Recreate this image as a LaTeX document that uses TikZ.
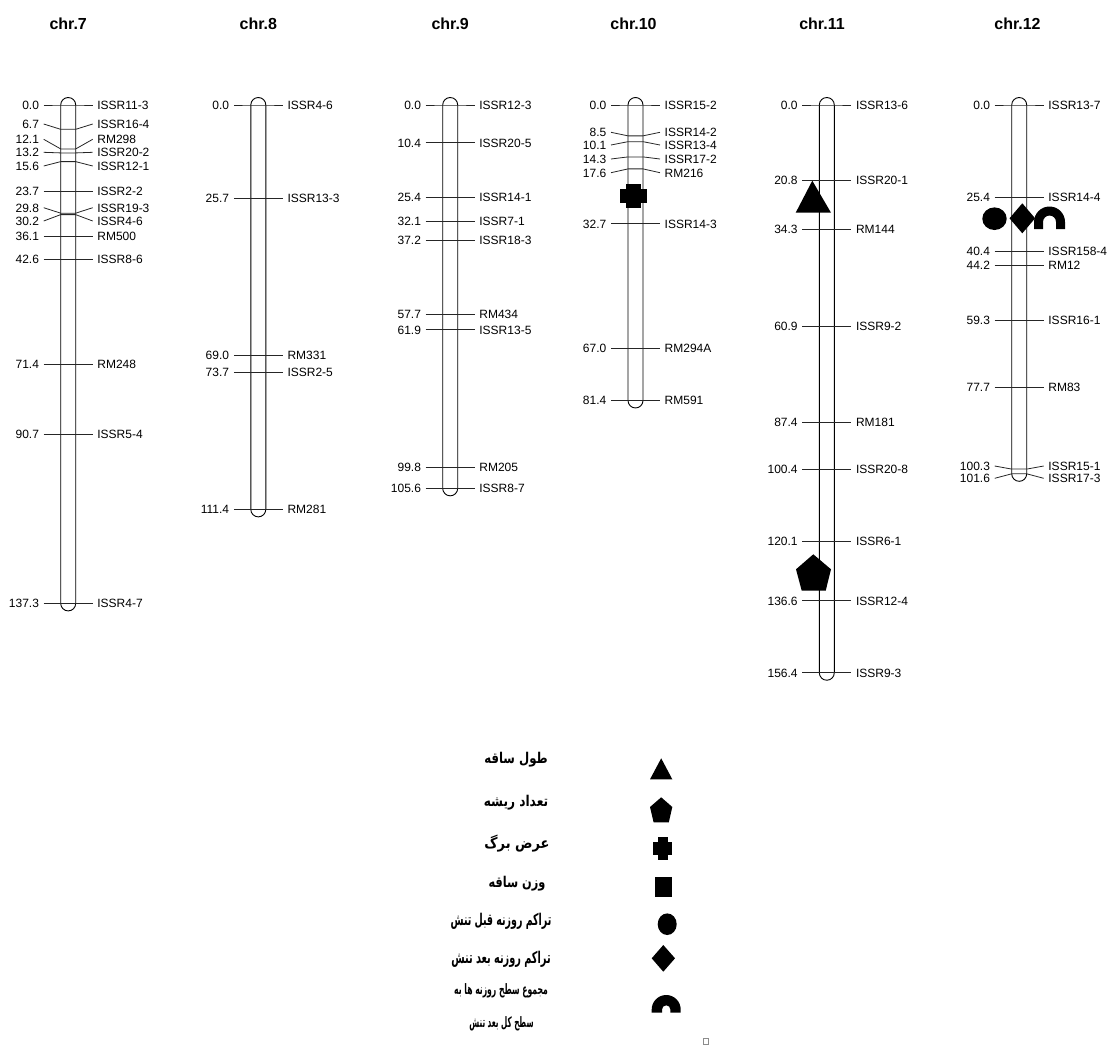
\documentclass[tikz,border=0pt]{standalone}
\usepackage{fontspec}
\usepackage{graphicx}
\setmainfont{Liberation Sans}
\newfontfamily\fa[Script=Arabic]{DejaVu Sans}
\TeXXeTstate=1
\newcounter{mkc}
\tikzset{
  barline/.style={draw=black, line width=0.9pt, fill=white},
  mkline/.style={draw=black!85, line width=0.8pt},
  numlab/.style={anchor=east, inner sep=0pt, font=\fontsize{12}{12}\selectfont, text height=8.6pt, text depth=0pt},
  namelab/.style={anchor=west, inner sep=0pt, font=\fontsize{12}{12}\selectfont, text height=8.6pt, text depth=0pt},
  ttl/.style={anchor=base, inner sep=0pt, font=\fontsize{16}{16}\selectfont\bfseries},
  legtxt/.style={inner sep=0pt, font=\fa\bfseries\fontsize{13.5}{14}\selectfont},
  legsmall/.style={inner sep=0pt, font=\fa\bfseries\fontsize{12}{13}\selectfont},
  sym/.style={fill=black}
}
\newcommand\chrbar[2]{%
  \pgfmathsetmacro\cbb{-(105+3.63*#2)}%
  \draw[barline] (#1-7.5,-105) -- (#1-7.5,\cbb) arc[start angle=180,end angle=360,radius=7.5]
     -- (#1+7.5,-105) arc[start angle=0,end angle=180,radius=7.5] -- cycle;}
\newcommand\mk[5]{%
  \pgfmathsetmacro\mkty{-(105+3.63*#2)}%
  \def\mktmp{#3}%
  \ifx\mktmp\empty \let\mkly\mkty \else \pgfmathsetmacro\mkly{-#3}\fi
  \stepcounter{mkc}%
  \draw[mkline] (#1-24.5,\mkly) -- (#1-7.5,\mkty) -- (#1+7.5,\mkty) -- (#1+24.5,\mkly);
  \node[numlab] (num\arabic{mkc}) at (#1-29,\mkly) {#4};
  \node[namelab] (name\arabic{mkc}) at (#1+29,\mkly) {#5};}
\begin{document}
\begin{tikzpicture}[x=1pt,y=1pt]
\useasboundingbox (0,0) rectangle (1109,-1047);
% titles
\node[ttl] (t7) at (68.2,-29) {chr.7};
\node[ttl] (t8) at (258.3,-29) {chr.8};
\node[ttl] (t9) at (450.2,-29) {chr.9};
\node[ttl] (t10) at (633.5,-29) {chr.10};
\node[ttl] (t11) at (822,-29) {chr.11};
\node[ttl] (t12) at (1017.5,-29) {chr.12};
% bars
\chrbar{68.2}{137.3}
\chrbar{258.3}{111.4}
\chrbar{450.2}{105.6}
\chrbar{635.5}{81.4}
\chrbar{826.8}{156.4}
\chrbar{1019.2}{101.6}
% chr.7
\mk{68.2}{0}{}{0.0}{ISSR11-3}
\mk{68.2}{6.7}{124}{6.7}{ISSR16-4}
\mk{68.2}{12.1}{139.3}{12.1}{RM298}
\mk{68.2}{13.2}{152.3}{13.2}{ISSR20-2}
\mk{68.2}{15.6}{166}{15.6}{ISSR12-1}
\mk{68.2}{23.7}{}{23.7}{ISSR2-2}
\mk{68.2}{29.8}{207.7}{29.8}{ISSR19-3}
\mk{68.2}{30.2}{221}{30.2}{ISSR4-6}
\mk{68.2}{36.1}{}{36.1}{RM500}
\mk{68.2}{42.6}{}{42.6}{ISSR8-6}
\mk{68.2}{71.4}{}{71.4}{RM248}
\mk{68.2}{90.7}{}{90.7}{ISSR5-4}
\mk{68.2}{137.3}{}{137.3}{ISSR4-7}
% chr.8
\mk{258.3}{0}{}{0.0}{ISSR4-6}
\mk{258.3}{25.7}{}{25.7}{ISSR13-3}
\mk{258.3}{69.0}{}{69.0}{RM331}
\mk{258.3}{73.7}{}{73.7}{ISSR2-5}
\mk{258.3}{111.4}{}{111.4}{RM281}
% chr.9
\mk{450.2}{0}{}{0.0}{ISSR12-3}
\mk{450.2}{10.4}{}{10.4}{ISSR20-5}
\mk{450.2}{25.4}{}{25.4}{ISSR14-1}
\mk{450.2}{32.1}{}{32.1}{ISSR7-1}
\mk{450.2}{37.2}{}{37.2}{ISSR18-3}
\mk{450.2}{57.7}{}{57.7}{RM434}
\mk{450.2}{61.9}{}{61.9}{ISSR13-5}
\mk{450.2}{99.8}{}{99.8}{RM205}
\mk{450.2}{105.6}{}{105.6}{ISSR8-7}
% chr.10
\mk{635.5}{0}{}{0.0}{ISSR15-2}
\mk{635.5}{8.5}{132.3}{8.5}{ISSR14-2}
\mk{635.5}{10.1}{145}{10.1}{ISSR13-4}
\mk{635.5}{14.3}{159}{14.3}{ISSR17-2}
\mk{635.5}{17.6}{172.7}{17.6}{RM216}
\mk{635.5}{32.7}{}{32.7}{ISSR14-3}
\mk{635.5}{67.0}{}{67.0}{RM294A}
\mk{635.5}{81.4}{}{81.4}{RM591}
% chr.11
\mk{826.8}{0}{}{0.0}{ISSR13-6}
\mk{826.8}{20.8}{}{20.8}{ISSR20-1}
\mk{826.8}{34.3}{}{34.3}{RM144}
\mk{826.8}{60.9}{}{60.9}{ISSR9-2}
\mk{826.8}{87.4}{}{87.4}{RM181}
\mk{826.8}{100.4}{}{100.4}{ISSR20-8}
\mk{826.8}{120.1}{}{120.1}{ISSR6-1}
\mk{826.8}{136.6}{}{136.6}{ISSR12-4}
\mk{826.8}{156.4}{}{156.4}{ISSR9-3}
% chr.12
\mk{1019.2}{0}{}{0.0}{ISSR13-7}
\mk{1019.2}{25.4}{}{25.4}{ISSR14-4}
\mk{1019.2}{40.4}{}{40.4}{ISSR158-4}
\mk{1019.2}{44.2}{}{44.2}{RM12}
\mk{1019.2}{59.3}{}{59.3}{ISSR16-1}
\mk{1019.2}{77.7}{}{77.7}{RM83}
\mk{1019.2}{100.3}{466}{100.3}{ISSR15-1}
\mk{1019.2}{101.6}{478.3}{101.6}{ISSR17-3}
% QTL symbols on chromosomes
\fill[sym] (620,-189.3) rectangle (646.7,-203.3);
\fill[sym] (626,-184.3) rectangle (640.7,-208.3);
\fill[sym] (812.3,-180.7) -- (795.7,-212.7) -- (831,-212.7) -- cycle;
\fill[sym] (813.3,-554.3) -- (831,-569.3) -- (825.7,-590.7) -- (801.7,-590.7) -- (796,-569.3) -- cycle;
\fill[sym] (994.5,-218.7) ellipse [x radius=12.2, y radius=11.3];
\fill[sym] (1022.3,-203.3) -- (1035.1,-218.3) -- (1022.3,-233.3) -- (1009.5,-218.3) -- cycle;
\fill[sym] (1034,-229) -- (1034,-222) arc[start angle=180,end angle=0,radius=15.5] -- (1065,-229) -- (1056,-229)
   -- (1056,-222) arc[start angle=0,end angle=180,radius=6.5] -- (1043,-229) -- cycle;
% legend symbols
\fill[sym] (661.2,-758.3) -- (650,-779.3) -- (672.3,-779.3) -- cycle;
\fill[sym] (661.2,-797.3) -- (672.3,-807) -- (668.8,-822.3) -- (653.6,-822.3) -- (650,-807) -- cycle;
\fill[sym] (653.3,-841.6) rectangle (672.3,-855);
\fill[sym] (657.6,-836.7) rectangle (668.1,-860);
\fill[sym] (655,-877.3) rectangle (671.7,-896.7);
\fill[sym] (667.2,-924.2) ellipse [x radius=9.5, y radius=10.8];
\fill[sym] (663.3,-945) -- (675,-958.3) -- (663.3,-971.7) -- (651.7,-958.3) -- cycle;
\fill[sym] (651.7,-1012.7) -- (651.7,-1009.5) arc[start angle=180,end angle=0,radius=14.5] -- (680.7,-1012.7)
   -- (670.4,-1012.7) -- (670.4,-1009.5) arc[start angle=0,end angle=180,radius=4.2] -- (662,-1012.7) -- cycle;
% legend texts
\node[legtxt] (l1) at (516,-760) {\scalebox{0.87}[1.1]{\beginR طول ساقه\endR}};
\node[legtxt] (l2) at (516,-803) {\scalebox{0.90}[1.1]{\beginR تعداد ریشه\endR}};
\node[legtxt] (l3) at (517,-844) {\scalebox{0.96}[1.1]{\beginR عرض برگ\endR}};
\node[legtxt] (l4) at (517,-884) {\scalebox{0.84}[1.1]{\beginR وزن ساقه\endR}};
\node[legtxt] (l5) at (501,-921) {\scalebox{0.70}[1.2]{\beginR تراکم روزنه قبل تنش\endR}};
\node[legtxt] (l6) at (501,-959) {\scalebox{0.72}[1.2]{\beginR تراکم روزنه بعد تنش\endR}};
\node[legsmall] (l7) at (501,-991) {\scalebox{0.64}[1.2]{\beginR مجموع سطح روزنه ها به\endR}};
\node[legsmall] (l8) at (501.5,-1024) {\scalebox{0.6}[1.2]{\beginR سطح کل بعد تنش\endR}};
% small box
\draw[draw=black!45, line width=0.5pt] (703.5,-1038.5) rectangle (708.3,-1044.5);
\end{tikzpicture}
\end{document}
